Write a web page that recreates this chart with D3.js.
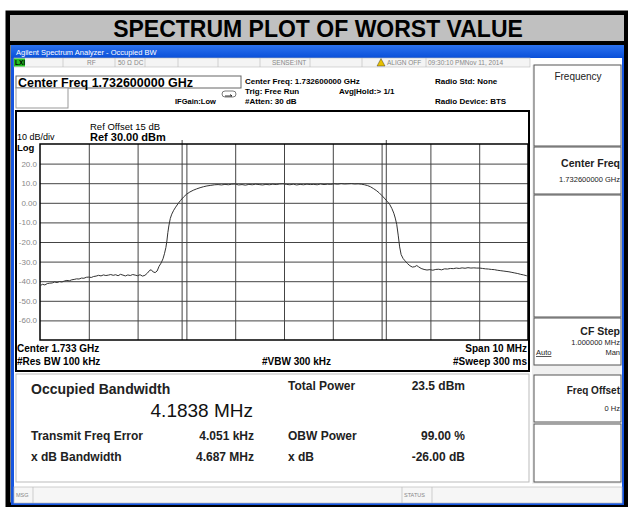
<!DOCTYPE html>
<html>
<head>
<meta charset="utf-8">
<script src="https://cdnjs.cloudflare.com/ajax/libs/d3/7.8.5/d3.min.js"></script>
<style>
  body { margin: 0; background: #fff; }
  svg { display: block; font-family: "Liberation Sans", Arial, sans-serif; }
</style>
</head>
<body>
<svg id="chart"></svg>
<script>
// trace: offset from centre (MHz) and level (dBm)
const freqMHz = [
  -5.00,-4.95,-4.90,-4.85,-4.80,-4.75,-4.70,-4.65,-4.60,-4.55,-4.50,-4.45,-4.40,-4.35,-4.30,-4.25,
  -4.20,-4.15,-4.10,-4.05,-4.00,-3.95,-3.90,-3.85,-3.80,-3.75,-3.70,-3.65,-3.60,-3.55,-3.50,-3.45,
  -3.40,-3.35,-3.30,-3.25,-3.20,-3.15,-3.10,-3.05,-3.00,-2.95,-2.90,-2.85,-2.80,-2.75,-2.72,-2.68,
  -2.64,-2.60,-2.56,-2.52,-2.48,-2.45,-2.42,-2.40,-2.38,-2.36,-2.33,-2.30,-2.26,-2.22,-2.17,-2.12,
  -2.06,-2.00,-1.93,-1.86,-1.79,-1.72,-1.65,-1.58,-1.50,-1.42,-1.35,-1.28,-1.21,-1.14,-1.07,-1.00,
  -0.93,-0.86,-0.79,-0.72,-0.65,-0.58,-0.51,-0.44,-0.37,-0.30,-0.23,-0.16,-0.09,-0.02,0.05,0.12,
  0.19,0.26,0.33,0.40,0.47,0.54,0.61,0.68,0.75,0.82,0.89,0.96,1.03,1.10,1.17,1.24,
  1.31,1.38,1.45,1.52,1.59,1.65,1.71,1.77,1.83,1.89,1.95,2.01,2.07,2.12,2.17,2.21,
  2.25,2.28,2.31,2.34,2.37,2.40,2.44,2.48,2.53,2.58,2.63,2.68,2.72,2.76,2.81,2.87,
  2.93,2.99,3.05,3.11,3.17,3.23,3.29,3.35,3.41,3.47,3.53,3.59,3.65,3.71,3.77,3.83,
  3.89,3.95,4.01,4.07,4.13,4.19,4.25,4.31,4.37,4.43,4.49,4.55,4.61,4.67,4.73,4.79,
  4.85,4.91,4.97,5.00
];
const levelDbm = [
  -42.3,-41.6,-41.9,-41.2,-41.0,-40.9,-40.4,-40.7,-40.2,-40.4,-39.9,-39.6,-39.8,-39.3,-39.1,-38.8,
  -38.9,-38.4,-38.5,-38.0,-37.9,-38.1,-37.6,-37.4,-37.0,-37.3,-36.8,-37.1,-36.9,-36.6,-37.0,-36.7,
  -37.2,-36.5,-36.9,-37.3,-36.8,-37.1,-36.6,-36.9,-37.2,-36.7,-37.4,-37.0,-35.9,-34.4,-34.2,-35.3,
  -35.6,-34.8,-32.4,-30.8,-28.6,-26.0,-22.8,-19.5,-15.2,-11.8,-8.0,-5.8,-3.8,-2.2,-0.4,1.2,
  2.9,4.3,5.5,6.4,7.1,7.7,8.2,8.6,8.9,9.2,9.3,9.1,9.4,9.2,9.5,9.6,
  9.1,9.3,9.0,9.4,9.2,9.5,9.3,9.1,9.4,9.2,9.5,9.3,9.6,9.7,9.4,9.2,
  9.5,9.1,9.4,9.2,9.5,9.3,9.4,9.2,9.6,9.3,9.5,9.4,9.7,9.5,9.8,9.6,
  9.7,9.8,9.6,9.7,9.5,9.2,8.8,8.2,7.3,6.3,5.1,3.6,2.0,0.6,-1.0,-2.9,
  -5.3,-7.8,-11.0,-16.5,-22.5,-26.4,-28.4,-29.6,-31.0,-32.1,-32.8,-32.6,-32.0,-32.7,-33.5,-34.0,
  -34.3,-34.1,-34.4,-34.0,-33.9,-34.2,-33.7,-33.8,-33.5,-33.6,-33.3,-33.5,-33.2,-33.4,-33.1,-33.3,
  -33.2,-33.3,-33.3,-33.5,-33.7,-33.8,-34.0,-34.1,-34.4,-34.6,-34.8,-35.0,-35.2,-35.5,-35.8,-36.1,
  -36.5,-36.8,-37.2,-37.4
];
const yTicks = [20, 10, 0, -10, -20, -30, -40, -50, -60];
const xTicks = [-4, -3, -2, -1, 0, 1, 2, 3, 4];
const occBwMHz = 4.1838;
const freqErrMHz = 0.004051;

const W = 628, H = 507;
const svg = d3.select('#chart').attr('width', W).attr('height', H);

// ---- outer frame + title ----
svg.append('rect').attr('x', 0).attr('y', 0).attr('width', W).attr('height', H).attr('fill', '#fff');
svg.append('rect').attr('x', 8).attr('y', 13).attr('width', 618).attr('height', 492)
  .attr('fill', '#fff').attr('stroke', '#000').attr('stroke-width', 5);
svg.append('rect').attr('x', 8).attr('y', 13).attr('width', 618).attr('height', 30)
  .attr('fill', '#c0c0c0').attr('stroke', '#000').attr('stroke-width', 4);
svg.append('text').attr('x', 318).attr('y', 37).attr('text-anchor', 'middle')
  .attr('font-size', 23).attr('font-weight', 'bold').text('SPECTRUM PLOT OF WORST VALUE');

// ---- window chrome ----
const grad = svg.append('defs').append('linearGradient').attr('id', 'bar').attr('x1', 0).attr('x2', 0).attr('y1', 0).attr('y2', 1);
grad.append('stop').attr('offset', '0%').attr('stop-color', '#2b72f0');
grad.append('stop').attr('offset', '100%').attr('stop-color', '#0a4fd8');
svg.append('rect').attr('x', 11).attr('y', 45).attr('width', 613).attr('height', 460).attr('fill', '#1656e0');
svg.append('rect').attr('x', 11).attr('y', 45).attr('width', 613).attr('height', 13).attr('fill', 'url(#bar)');
svg.append('text').attr('x', 16).attr('y', 55).attr('fill', '#fff').attr('font-size', 7.5)
  .text('Agilent Spectrum Analyzer - Occupied BW');
svg.append('rect').attr('x', 14).attr('y', 58).attr('width', 608).attr('height', 444).attr('fill', '#fff');

// status row
svg.append('rect').attr('x', 14).attr('y', 58).attr('width', 516).attr('height', 9)
  .attr('fill', '#f4f4f4').attr('stroke', '#bbb').attr('stroke-width', 0.6);
svg.append('rect').attr('x', 14).attr('y', 58.5).attr('width', 11).attr('height', 8).attr('fill', '#22c022');
svg.append('text').attr('x', 15).attr('y', 65).attr('font-size', 6.5).attr('font-weight', 'bold').text('LXI');
[63, 115, 145, 178, 218, 260, 310, 362, 426].forEach(x => {
  svg.append('line').attr('x1', x).attr('x2', x).attr('y1', 58).attr('y2', 67).attr('stroke', '#bbb').attr('stroke-width', 0.6);
});
const statusTxt = [[87, 'RF'], [118, '50 Ω'], [134, 'DC'], [272, 'SENSE:INT'], [387, 'ALIGN OFF'], [428, '09:30:10 PMNov 11, 2014']];
statusTxt.forEach(([x, t]) => svg.append('text').attr('x', x).attr('y', 65).attr('font-size', 6.5).attr('fill', '#888').text(t));
svg.append('path').attr('d', 'M377,66 L381,58.5 L385,66 Z').attr('fill', '#e8c000').attr('stroke', '#222').attr('stroke-width', 0.4);

// header boxes
svg.append('rect').attr('x', 16).attr('y', 76).attr('width', 225).attr('height', 12).attr('fill', '#fff').attr('stroke', '#666');
svg.append('text').attr('x', 18).attr('y', 86.5).attr('font-size', 12.5).attr('font-weight', 'bold').text('Center Freq 1.732600000 GHz');
svg.append('rect').attr('x', 16).attr('y', 88).attr('width', 52).attr('height', 20).attr('fill', '#fff').attr('stroke', '#999');
svg.append('text').attr('x', 175).attr('y', 104).attr('font-size', 7.5).attr('font-weight', 'bold').text('IFGain:Low');
svg.append('rect').attr('x', 222).attr('y', 91).attr('width', 14).attr('height', 6).attr('rx', 3).attr('fill', '#fff').attr('stroke', '#444').attr('stroke-width', 0.7);
svg.append('path').attr('d', 'M225,96 L232,96 L230,94.5').attr('fill', 'none').attr('stroke', '#000').attr('stroke-width', 0.8);

const headInfo = [
  [245, 84, 'Center Freq: 1.732600000 GHz'], [245, 94, 'Trig: Free Run'], [245, 104, '#Atten: 30 dB'],
  [339, 94, 'Avg|Hold:> 1/1'], [435, 84, 'Radio Std: None'], [435, 104, 'Radio Device: BTS']
];
headInfo.forEach(([x, y, t]) => svg.append('text').attr('x', x).attr('y', y).attr('font-size', 8).attr('font-weight', 'bold').text(t));

// ---- right soft-key panel ----
svg.append('rect').attr('x', 532).attr('y', 65).attr('width', 90).attr('height', 419).attr('fill', '#f0f0f0');
const keys = [[65, 146], [147, 194], [195, 317], [318, 365], [375, 422], [424, 482]];
keys.forEach(([y0, y1]) => {
  svg.append('rect').attr('x', 534).attr('y', y0).attr('width', 87).attr('height', y1 - y0)
    .attr('fill', '#fff').attr('stroke', '#555').attr('stroke-width', 1);
});
svg.append('text').attr('x', 578).attr('y', 80).attr('text-anchor', 'middle').attr('font-size', 10).attr('fill', '#222').text('Frequency');
const keyTxt = [
  [620, 167, 'Center Freq', 10.5, 'bold'], [620, 182, '1.732600000 GHz', 7.5, 'normal'],
  [620, 335, 'CF Step', 10.5, 'bold'], [620, 345, '1.000000 MHz', 7.5, 'normal'], [620, 355, 'Man', 7.5, 'normal'],
  [620, 394, 'Freq Offset', 10, 'bold'], [620, 411, '0 Hz', 7.5, 'normal']
];
keyTxt.forEach(([x, y, t, s, w]) => svg.append('text').attr('x', x).attr('y', y).attr('text-anchor', 'end')
  .attr('font-size', s).attr('font-weight', w).attr('fill', '#222').text(t));
svg.append('text').attr('x', 536).attr('y', 355).attr('font-size', 7.5).attr('text-decoration', 'underline').attr('fill', '#222').text('Auto');

// ---- graph box ----
svg.append('rect').attr('x', 16).attr('y', 111).attr('width', 513).attr('height', 260)
  .attr('fill', '#fff').attr('stroke', '#000').attr('stroke-width', 2);
svg.append('text').attr('x', 90).attr('y', 130).attr('font-size', 9.5).text('Ref Offset 15 dB');
svg.append('text').attr('x', 90).attr('y', 141).attr('font-size', 11).attr('font-weight', 'bold').text('Ref 30.00 dBm');
svg.append('text').attr('x', 17).attr('y', 139.5).attr('font-size', 9).text('10 dB/div');
svg.append('text').attr('x', 17).attr('y', 150.5).attr('font-size', 9.5).attr('font-weight', 'bold').text('Log');

const plot = { l: 40, r: 528, t: 144, b: 340 };
const x = d3.scaleLinear().domain([-5, 5]).range([plot.l, plot.r]);
const y = d3.scaleLinear().domain([-70, 30]).range([plot.b, plot.t]);

// horizontal grid + tick labels
const yAxis = svg.append('g').attr('transform', `translate(${plot.l},0)`)
  .call(d3.axisLeft(y).tickValues(yTicks).tickSize(-(plot.r - plot.l)).tickPadding(3)
    .tickFormat(d => d === 0 ? '0.00' : d.toFixed(1)));
yAxis.select('.domain').remove();
yAxis.selectAll('.tick line').attr('stroke', '#444').attr('stroke-width', 1);
yAxis.selectAll('.tick text').attr('font-size', 8).attr('fill', '#888').attr('font-family', '"Liberation Sans", Arial, sans-serif');

// vertical grid
const xAxis = svg.append('g').attr('transform', `translate(0,${plot.b})`)
  .call(d3.axisBottom(x).tickValues(xTicks).tickSize(-(plot.b - plot.t)).tickFormat(''));
xAxis.select('.domain').remove();
xAxis.selectAll('.tick line').attr('stroke', '#444').attr('stroke-width', 1);

// OBW marker lines
const obwEdges = [-occBwMHz / 2 + freqErrMHz, occBwMHz / 2 + freqErrMHz];
svg.selectAll('.obw').data(obwEdges).join('line').attr('class', 'obw')
  .attr('x1', d => x(d)).attr('x2', d => x(d)).attr('y1', plot.t - 4).attr('y2', plot.b)
  .attr('stroke', '#444').attr('stroke-width', 1);

svg.append('rect').attr('x', plot.l).attr('y', plot.t).attr('width', plot.r - plot.l).attr('height', plot.b - plot.t)
  .attr('fill', 'none').attr('stroke', '#000').attr('stroke-width', 1.5);

// trace
const trace = freqMHz.map((f, i) => [f, levelDbm[i]]);
svg.append('path').datum(trace)
  .attr('fill', 'none').attr('stroke', '#333').attr('stroke-width', 1)
  .attr('d', d3.line().x(d => x(d[0])).y(d => y(d[1])));

// bottom annotation
const footer = [
  [17, 352, 'Center  1.733 GHz', 'start'], [17, 365, '#Res BW  100 kHz', 'start'],
  [262, 365, '#VBW  300 kHz', 'start'], [527, 352, 'Span 10 MHz', 'end'], [527, 365, '#Sweep  300 ms', 'end']
];
footer.forEach(([fx, fy, t, a]) => svg.append('text').attr('x', fx).attr('y', fy).attr('text-anchor', a)
  .attr('font-size', 10).attr('font-weight', 'bold').text(t));

// ---- measurement area ----
svg.append('rect').attr('x', 16).attr('y', 374).attr('width', 513).attr('height', 108)
  .attr('fill', '#fff').attr('stroke', '#bbb').attr('stroke-width', 1);
svg.append('text').attr('x', 31).attr('y', 394).attr('font-size', 14).attr('font-weight', 'bold').attr('fill', '#222').text('Occupied Bandwidth');
svg.append('text').attr('x', 253).attr('y', 417).attr('text-anchor', 'end').attr('font-size', 19).attr('fill', '#111').text('4.1838 MHz');
const meas = [
  [288, 390, 'Total Power', 'start'], [465, 390, '23.5 dBm', 'end'],
  [31, 440, 'Transmit Freq Error', 'start'], [254, 440, '4.051 kHz', 'end'],
  [288, 440, 'OBW Power', 'start'], [465, 440, '99.00 %', 'end'],
  [31, 461, 'x dB Bandwidth', 'start'], [254, 461, '4.687 MHz', 'end'],
  [288, 461, 'x dB', 'start'], [465, 461, '-26.00 dB', 'end']
];
meas.forEach(([mx, my, t, a]) => svg.append('text').attr('x', mx).attr('y', my).attr('text-anchor', a)
  .attr('font-size', 12).attr('font-weight', 'bold').attr('fill', '#222').text(t));

// ---- message bar ----
svg.append('rect').attr('x', 14).attr('y', 487).attr('width', 608).attr('height', 16)
  .attr('fill', '#f6f6f6').attr('stroke', '#bbb').attr('stroke-width', 0.7);
[33, 402, 432].forEach(lx => svg.append('line').attr('x1', lx).attr('x2', lx).attr('y1', 487).attr('y2', 503)
  .attr('stroke', '#bbb').attr('stroke-width', 0.7));
svg.append('text').attr('x', 16).attr('y', 497).attr('font-size', 5.5).attr('fill', '#888').text('MSG');
svg.append('text').attr('x', 404).attr('y', 497).attr('font-size', 5.5).attr('fill', '#888').text('STATUS');
</script>
</body>
</html>
